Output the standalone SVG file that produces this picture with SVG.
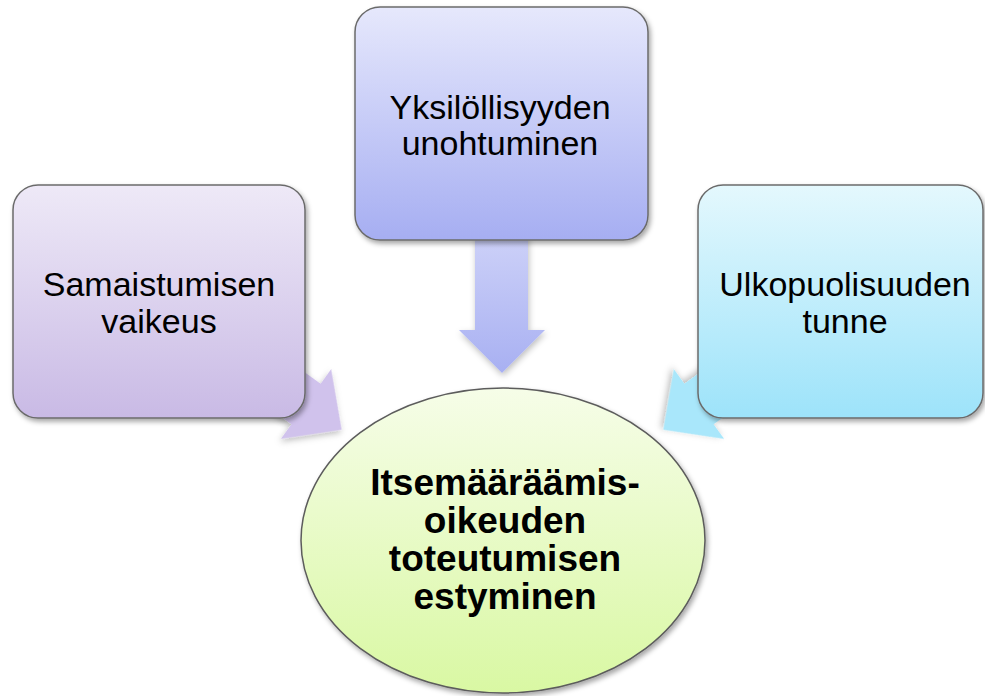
<svg xmlns="http://www.w3.org/2000/svg" width="985" height="696" viewBox="0 0 985 696">
  <defs>
    <linearGradient id="gLeft" x1="0" y1="0" x2="0" y2="1">
      <stop offset="0" stop-color="#eee9f7"/>
      <stop offset="1" stop-color="#c9bae5"/>
    </linearGradient>
    <linearGradient id="gMid" x1="0" y1="0" x2="0" y2="1">
      <stop offset="0" stop-color="#e6e8fc"/>
      <stop offset="1" stop-color="#a6aef2"/>
    </linearGradient>
    <linearGradient id="gRight" x1="0" y1="0" x2="0" y2="1">
      <stop offset="0" stop-color="#e4f8fd"/>
      <stop offset="1" stop-color="#9de3fa"/>
    </linearGradient>
    <linearGradient id="gCenter" x1="0" y1="0" x2="0" y2="1">
      <stop offset="0" stop-color="#f6fde8"/>
      <stop offset="1" stop-color="#d9f8a3"/>
    </linearGradient>
    <linearGradient id="gArrowMid" x1="0" y1="0" x2="0" y2="1">
      <stop offset="0" stop-color="#cdd1f8"/>
      <stop offset="1" stop-color="#a8b0f2"/>
    </linearGradient>
    <filter id="shadow" x="-20%" y="-20%" width="140%" height="140%">
      <feDropShadow dx="2" dy="3" stdDeviation="2.5" flood-color="#000" flood-opacity="0.35"/>
    </filter>
    <filter id="softShadow" x="-20%" y="-20%" width="140%" height="140%">
      <feDropShadow dx="1" dy="3" stdDeviation="3" flood-color="#000" flood-opacity="0.25"/>
    </filter>
  </defs>
  <style>
    .box { stroke: #6b6b6b; stroke-width: 1.5; filter: url(#shadow); }
    .ell { stroke: #5c5c5c; stroke-width: 1.5; filter: url(#shadow); }
    .arrow { filter: url(#softShadow); }
    .lbl { font-family: "Liberation Sans", Arial, sans-serif; font-size: 34px; fill: #000; text-anchor: middle; }
    .hub { font-family: "Liberation Sans", Arial, sans-serif; font-size: 37px; font-weight: bold; fill: #000; text-anchor: middle; }
  </style>

  <!-- connectors: block arrows pointing at the central ellipse -->
  <g id="connectors">
    <polygon class="arrow" fill="#d0c2ec" transform="translate(306,404) rotate(35.8)"
             points="-110,-25 0,-25 0,-43 44,0 0,43 0,25 -110,25"/>
    <polygon class="arrow" fill="url(#gArrowMid)"
             points="475,235 528,235 528,330 545,330 502,373 459,330 475,330"/>
    <polygon class="arrow" fill="#a9e7fb" transform="translate(699,404) rotate(144.2)"
             points="-110,-25 0,-25 0,-43 44,0 0,43 0,25 -110,25"/>
  </g>

  <g id="node-samaistuminen">
    <rect class="box" x="13" y="185" width="292" height="233" rx="25" ry="25" fill="url(#gLeft)"/>
    <text class="lbl" x="159" y="296">Samaistumisen</text>
    <text class="lbl" x="159" y="333">vaikeus</text>
  </g>

  <g id="node-yksilollisyys">
    <rect class="box" x="355" y="7" width="293" height="233" rx="25" ry="25" fill="url(#gMid)"/>
    <text class="lbl" x="500" y="119">Yksilöllisyyden</text>
    <text class="lbl" x="500" y="155">unohtuminen</text>
  </g>

  <g id="node-ulkopuolisuus">
    <rect class="box" x="698" y="185" width="285" height="233" rx="25" ry="25" fill="url(#gRight)"/>
    <text class="lbl" x="845" y="296">Ulkopuolisuuden</text>
    <text class="lbl" x="845" y="333">tunne</text>
  </g>

  <g id="node-itsemaaraamisoikeus">
    <ellipse class="ell" cx="503" cy="540.5" rx="202" ry="152.5" fill="url(#gCenter)"/>
    <text class="hub" x="505" y="495">Itsemääräämis-</text>
    <text class="hub" x="505" y="533">oikeuden</text>
    <text class="hub" x="505" y="571">toteutumisen</text>
    <text class="hub" x="505" y="609">estyminen</text>
  </g>
</svg>
